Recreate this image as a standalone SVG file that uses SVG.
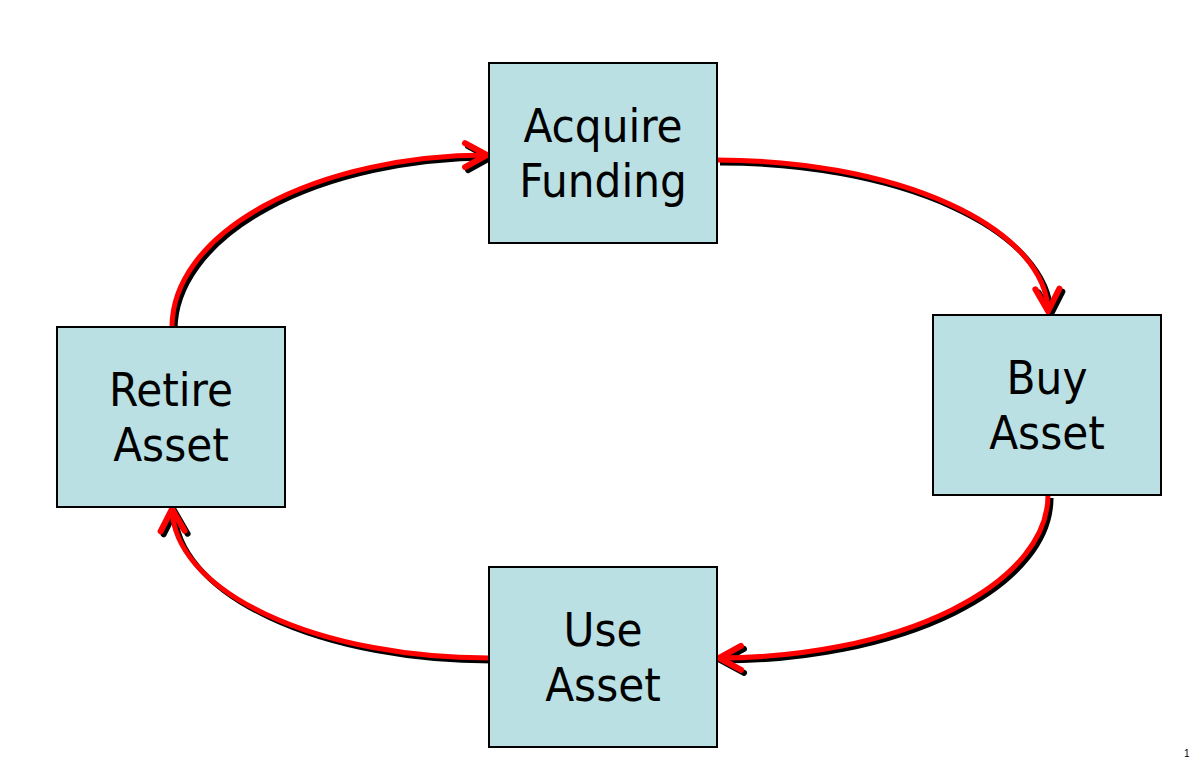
<svg xmlns="http://www.w3.org/2000/svg" width="1193" height="762" viewBox="0 0 1193 762">
<style>
.box{fill:#BBE0E3;stroke:#000;stroke-width:2}
.lbl{font-family:"DejaVu Sans Condensed","DejaVu Sans",sans-serif;font-size:47px;fill:#000;text-anchor:middle}
.red{fill:none;stroke:#FF0000;stroke-width:5;marker-end:url(#ahR)}
.blk{fill:none;stroke:#000;stroke-width:5;marker-end:url(#ahK)}
</style>
<defs>
<marker id="ahR" markerUnits="userSpaceOnUse" viewBox="-30 -20 40 40" refX="0" refY="0" markerWidth="40" markerHeight="40" orient="auto" overflow="visible">
<path d="M-22,-12 L0,0 L-22,12" fill="none" stroke="#FF0000" stroke-width="6" stroke-linecap="round" stroke-linejoin="miter"/>
</marker>
<marker id="ahK" markerUnits="userSpaceOnUse" viewBox="-30 -20 40 40" refX="0" refY="0" markerWidth="40" markerHeight="40" orient="auto" overflow="visible">
<path d="M-22,-12 L0,0 L-22,12" fill="none" stroke="#000" stroke-width="6" stroke-linecap="round" stroke-linejoin="miter"/>
</marker>
</defs>
<rect width="1193" height="762" fill="#fff"/>
<g id="connectors">
<g transform="translate(3,3)">
<path class="blk" d="M172,327 A317,172 0 0 1 487,155"/>
<path class="blk" d="M717,160 A331,153 0 0 1 1048,311"/>
<path class="blk" d="M1048,495 A331,163 0 0 1 719,658"/>
<path class="blk" d="M489,658 A317,151 0 0 1 172,509"/>
</g>
<path class="red" d="M172,327 A317,172 0 0 1 487,155"/>
<path class="red" d="M717,160 A331,153 0 0 1 1048,311"/>
<path class="red" d="M1048,495 A331,163 0 0 1 719,658"/>
<path class="red" d="M489,658 A317,151 0 0 1 172,509"/>
</g>
<g id="acquire-funding">
<rect class="box" x="489" y="63" width="228" height="180"/>
<text class="lbl" x="603" y="142">Acquire</text>
<text class="lbl" x="603" y="197">Funding</text>
</g>
<g id="buy-asset">
<rect class="box" x="933" y="315" width="228" height="180"/>
<text class="lbl" x="1047" y="394">Buy</text>
<text class="lbl" x="1047" y="449">Asset</text>
</g>
<g id="use-asset">
<rect class="box" x="489" y="567" width="228" height="180"/>
<text class="lbl" x="603" y="646">Use</text>
<text class="lbl" x="603" y="701">Asset</text>
</g>
<g id="retire-asset">
<rect class="box" x="57" y="327" width="228" height="180"/>
<text class="lbl" x="171" y="406">Retire</text>
<text class="lbl" x="171" y="461">Asset</text>
</g>
<text x="1184" y="757" font-family="Liberation Sans, sans-serif" font-size="10" fill="#000">1</text>
</svg>
